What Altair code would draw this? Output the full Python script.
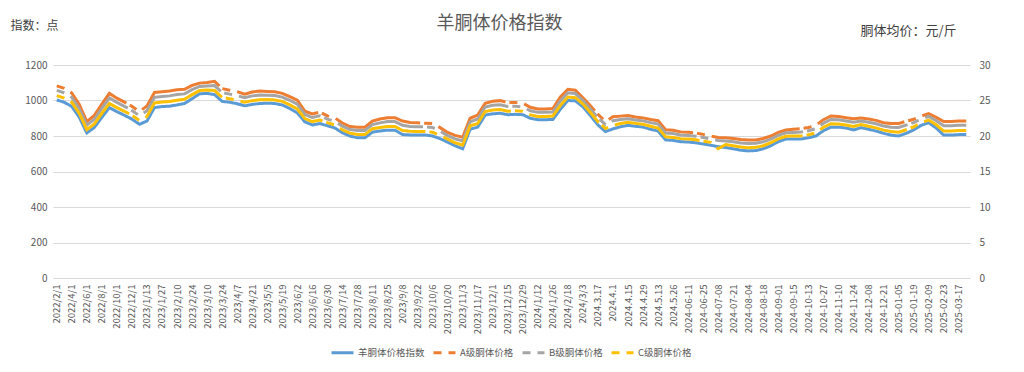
import altair as alt
import pandas as pd

# ---------------- data ----------------
dates = [
    "2022/2/1", "2022/3/1", "2022/4/1", "2022/5/1", "2022/6/1", "2022/7/1", "2022/8/1", "2022/9/1",
    "2022/10/1", "2022/11/1", "2022/12/1", "2022/12/30", "2023/1/13", "2023/1/20", "2023/1/27", "2023/2/3",
    "2023/2/10", "2023/2/17", "2023/2/24", "2023/3/3", "2023/3/10", "2023/3/17", "2023/3/24", "2023/3/31",
    "2023/4/7", "2023/4/14", "2023/4/21", "2023/4/28", "2023/5/5", "2023/5/12", "2023/5/19", "2023/5/26",
    "2023/6/2", "2023/6/9", "2023/6/16", "2023/6/23", "2023/6/30", "2023/7/7", "2023/7/14", "2023/7/21",
    "2023/7/28", "2023/8/4", "2023/8/11", "2023/8/18", "2023/8/25", "2023/9/1", "2023/9/8", "2023/9/15",
    "2023/9/22", "2023/9/29", "2023/10/6", "2023/10/13", "2023/10/20", "2023/10/27", "2023/11/3", "2023/11/10",
    "2023/11/17", "2023/11/24", "2023/12/1", "2023/12/8", "2023/12/15", "2023/12/22", "2023/12/29", "2024/1/5",
    "2024/1/12", "2024/1/19", "2024/1/26", "2024/2/2", "2024/2/18", "2024/2/25", "2024/3/3", "2024/3/10",
    "2024.3.17", "2024.3.24", "2024.4.1", "2024.4.8", "2024.4.15", "2024.4.22", "2024.4.29", "2024.5.6",
    "2024.5.13", "2024.5.19", "2024.5.26", "2024-06-02", "2024-06-11", "2024-06-18", "2024-06-25", "2024-07-01",
    "2024-07-08", "2024-07-14", "2024-07-21", "2024-07-28", "2024-08-04", "2024-08-11", "2024-08-18", "2024-08-25",
    "2024-09-01", "2024-09-08", "2024-09-15", "2024-09-29", "2024-10-13", "2024-10-20", "2024-10-27", "2024-11-03",
    "2024-11-10", "2024-11-17", "2024-11-24", "2024-12-01", "2024-12-08", "2024-12-15", "2024-12-21", "2024-12-29",
    "2025-01-05", "2025-01-12", "2025-01-19", "2025-01-26", "2025-02-09", "2025-02-16", "2025-02-23", "2025-03-02",
    "2025-03-17", "2025-03-24",
]
label_dates = dates[::2]

# 羊胴体价格指数 (left axis, 点)
index_vals = [
    1003, 990, 966, 905, 817, 848, 905, 960, 937, 917, 895, 866, 884, 960, 966, 968,
    975, 983, 1010, 1038, 1040, 1033, 995, 990, 982, 970, 978, 983, 985, 983, 975, 955,
    930, 880, 862, 870, 858, 845, 818, 800, 790, 790, 822, 828, 833, 833, 808, 806,
    806, 806, 800, 785, 765, 745, 728, 838, 850, 918, 925, 928, 920, 922, 920, 900,
    892, 892, 893, 950, 1000, 998, 965, 915, 862, 825, 840, 852, 860, 855, 850, 838,
    828, 778, 775, 768, 766, 762, 755, 748, 740, 735, 728, 720, 716, 718, 728, 745,
    768, 783, 783, 783, 790, 800, 830, 850, 850, 845, 834, 847, 838, 828, 815, 805,
    800, 815, 834, 860, 875, 845, 805, 805, 808, 808,
]

# 胴体均价 (right axis, 元/斤)
grade_a = [
    27.05, 26.70, 26.05, 24.43, 22.03, 22.90, 24.48, 26.00, 25.33, 24.78, 24.18, 23.43, 24.23, 26.13, 26.23, 26.33,
    26.50, 26.58, 27.13, 27.45, 27.55, 27.70, 26.68, 26.45, 26.25, 25.90, 26.20, 26.33, 26.28, 26.23, 26.00, 25.55,
    25.05, 23.50, 23.10, 23.38, 22.83, 22.53, 21.83, 21.33, 21.25, 21.25, 22.10, 22.40, 22.58, 22.58, 22.10, 21.90,
    21.85, 21.80, 21.75, 21.18, 20.50, 20.08, 19.83, 22.50, 22.95, 24.60, 24.88, 24.98, 24.70, 24.73, 24.63, 24.05,
    23.80, 23.80, 23.88, 25.50, 26.58, 26.45, 25.38, 24.25, 23.05, 22.05, 22.70, 22.80, 22.88, 22.68, 22.55, 22.33,
    22.15, 20.88, 20.80, 20.58, 20.53, 20.43, 20.23, 20.00, 19.80, 19.75, 19.65, 19.50, 19.43, 19.45, 19.65, 20.00,
    20.50, 20.85, 20.95, 21.03, 21.20, 21.50, 22.30, 22.83, 22.75, 22.58, 22.43, 22.55, 22.40, 22.20, 21.88, 21.75,
    21.75, 22.08, 22.35, 22.80, 23.15, 22.63, 22.03, 22.03, 22.10, 22.10,
]
grade_b = [
    26.43, 26.08, 25.45, 23.85, 21.53, 22.35, 23.88, 25.35, 24.73, 24.18, 23.60, 22.85, 23.55, 25.45, 25.55, 25.65,
    25.83, 25.93, 26.53, 26.98, 27.05, 27.10, 26.10, 25.90, 25.70, 25.38, 25.65, 25.78, 25.75, 25.70, 25.48, 25.03,
    24.48, 23.03, 22.60, 22.85, 22.38, 22.08, 21.38, 20.90, 20.78, 20.78, 21.60, 21.85, 22.03, 22.03, 21.50, 21.35,
    21.30, 21.28, 21.20, 20.68, 20.05, 19.60, 19.30, 22.00, 22.40, 24.08, 24.33, 24.40, 24.15, 24.20, 24.10, 23.55,
    23.33, 23.33, 23.38, 24.95, 26.08, 25.98, 24.98, 23.80, 22.58, 21.60, 22.15, 22.33, 22.43, 22.25, 22.13, 21.88,
    21.68, 20.43, 20.35, 20.13, 20.08, 19.98, 19.80, 19.58, 19.38, 19.30, 19.18, 19.03, 18.93, 18.98, 19.18, 19.55,
    20.08, 20.45, 20.50, 20.55, 20.73, 21.03, 21.80, 22.33, 22.28, 22.10, 21.93, 22.10, 21.93, 21.73, 21.40, 21.23,
    21.20, 21.53, 21.88, 22.38, 22.75, 22.15, 21.43, 21.43, 21.50, 21.50,
]
grade_c = [
    25.68, 25.33, 24.73, 23.18, 20.90, 21.70, 23.18, 24.60, 24.00, 23.48, 22.93, 22.18, 22.75, 24.65, 24.78, 24.85,
    25.03, 25.18, 25.83, 26.40, 26.48, 26.40, 25.43, 25.25, 25.05, 24.75, 24.98, 25.10, 25.13, 25.08, 24.88, 24.38,
    23.80, 22.45, 22.03, 22.25, 21.88, 21.55, 20.88, 20.40, 20.20, 20.20, 21.03, 21.20, 21.35, 21.35, 20.78, 20.68,
    20.65, 20.65, 20.53, 20.10, 19.55, 19.05, 18.70, 21.43, 21.75, 23.45, 23.65, 23.73, 23.50, 23.55, 23.50, 22.98,
    22.75, 22.75, 22.80, 24.28, 25.48, 25.40, 24.50, 23.30, 22.00, 21.05, 21.50, 21.75, 21.93, 21.78, 21.65, 21.38,
    21.13, 19.88, 19.80, 19.63, 19.58, 19.48, 19.28, 19.10, 18.20, 18.80, 18.63, 18.45, 18.35, 18.40, 18.63, 19.05,
    19.60, 19.95, 20.00, 20.00, 20.18, 20.45, 21.23, 21.73, 21.70, 21.55, 21.33, 21.60, 21.38, 21.15, 20.83, 20.63,
    20.53, 20.88, 21.30, 21.90, 22.25, 21.58, 20.70, 20.70, 20.78, 20.78,
]

series_names = ["羊胴体价格指数", "A级胴体价格", "B级胴体价格", "C级胴体价格"]
left_ticks = [0, 200, 400, 600, 800, 1000, 1200]
right_ticks = [0, 5, 10, 15, 20, 25, 30]

# ---------------- styling ----------------
colors = ["#5b9bd5", "#ed7d31", "#a5a5a5", "#ffc000"]
dashes = [[1, 0], [8, 7, 90, 4], [8, 7, 90, 4], [8, 7, 90, 4]]
FONT = "Noto Sans CJK SC"
TXT = "#595959"
GRID = "#d9d9d9"

rows = []
for i, d in enumerate(dates):
    rows.append({"date": d, "series": series_names[0], "value": index_vals[i]})
    rows.append({"date": d, "series": series_names[1], "value": grade_a[i]})
    rows.append({"date": d, "series": series_names[2], "value": grade_b[i]})
    rows.append({"date": d, "series": series_names[3], "value": grade_c[i]})
df = pd.DataFrame(rows)

x_enc = alt.X(
    "date:N",
    sort=dates,
    scale=alt.Scale(type="point", padding=0.5),
    axis=alt.Axis(
        values=label_dates, title=None, labelAngle=270, labelAlign="right", labelBaseline="middle",
        labelFontSize=9.5, labelColor=TXT, labelFont=FONT, labelPadding=6, ticks=False,
        domain=True, domainColor=GRID, grid=False, labelOverlap=False,
    ),
)

legend = alt.Legend(
    orient="none", legendX=277, legendY=275, direction="horizontal", title=None,
    symbolType="stroke", symbolSize=484, symbolStrokeWidth=3, labelFontSize=9.5,
    labelColor=TXT, labelFont=FONT, columnPadding=2, labelOffset=3,
)
color_enc = alt.Color("series:N", scale=alt.Scale(domain=series_names, range=colors), legend=legend)
dash_enc = alt.StrokeDash("series:N", scale=alt.Scale(domain=series_names, range=dashes), legend=legend)

base = alt.Chart(df)

left_layer = base.transform_filter(alt.datum.series == series_names[0]).mark_line(strokeWidth=3).encode(
    x=x_enc,
    y=alt.Y(
        "value:Q",
        scale=alt.Scale(domain=[0, 1200]),
        axis=alt.Axis(
            values=left_ticks, format="d", orient="left", title="指数：点", titleAngle=0, titleX=-43, titleY=-40,
            titleAlign="left", titleBaseline="middle", titleFontSize=12, titleFont=FONT,
            titleFontWeight="normal", titleColor="#404040",
            labelFontSize=10, labelColor=TXT, labelFont=FONT, labelPadding=6,
            domain=False, ticks=False, grid=True, gridColor=GRID,
        ),
    ),
    color=color_enc,
    strokeDash=dash_enc,
)

right_layer = base.transform_filter(alt.datum.series != series_names[0]).mark_line(strokeWidth=3).encode(
    x=x_enc,
    y=alt.Y(
        "value:Q",
        scale=alt.Scale(domain=[0, 30]),
        axis=alt.Axis(
            values=right_ticks, format="d", orient="right", title="胴体均价：元/斤", titleAngle=0, titleX=-62, titleY=-35,
            titleAlign="center", titleBaseline="middle", titleFontSize=13, titleFont=FONT,
            titleFontWeight="normal", titleColor="#404040",
            labelFontSize=10, labelColor=TXT, labelFont=FONT, labelPadding=9,
            domain=False, ticks=False, grid=False,
        ),
    ),
    color=color_enc,
    strokeDash=dash_enc,
)

chart = (
    alt.layer(left_layer, right_layer)
    .resolve_scale(y="independent")
    .properties(
        width=917,
        height=213,
        padding={"left": 45, "top": 57, "right": 46, "bottom": 86},
        autosize=alt.AutoSizeParams(type="none"),
        title=alt.TitleParams(
            "羊胴体价格指数", fontSize=18, color=TXT, font=FONT, fontWeight="normal", anchor="middle",
            dy=18, dx=-12,
        ),
        background="white",
    )
    .configure_view(stroke=None)
)

chart.save("out.html", embed_options={"renderer": "svg", "actions": False})
